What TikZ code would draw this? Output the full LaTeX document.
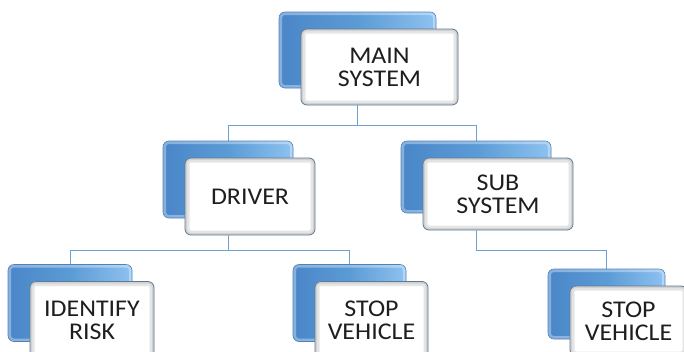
\documentclass[tikz,border=0pt]{standalone}
\usepackage{fontspec}
\setmainfont{Carlito}[FakeStretch=1.08]
\usetikzlibrary{backgrounds}

\definecolor{bluemid}{HTML}{5B9BD5}
\definecolor{bluedark}{HTML}{4A86C8}
\definecolor{bluelight}{HTML}{8EC2F0}
\definecolor{blueedge}{HTML}{4D82BE}
\definecolor{frameedge}{HTML}{5E7A96}
\definecolor{linkblue}{HTML}{6FA0D2}
\definecolor{textgray}{HTML}{1E1E1E}

\tikzset{
  backbox/.style={rectangle, rounded corners=6pt, draw=blueedge, line width=0.6pt,
    left color=bluedark, right color=bluelight, middle color=bluemid,
    path picture={\draw[white, opacity=0.35, line width=6pt, rounded corners=6pt]
      (path picture bounding box.north west) rectangle (path picture bounding box.south east);}},
  frontbox/.style={rectangle, rounded corners=6pt, draw=frameedge, line width=0.8pt,
    fill=white, align=center, text=textgray, font=\fontsize{24}{23}\selectfont,
    path picture={
      \draw[black!10, line width=9pt, rounded corners=6pt]
        (path picture bounding box.north west) rectangle (path picture bounding box.south east);
      \draw[black!18, line width=4pt, rounded corners=6pt]
        (path picture bounding box.north west) rectangle (path picture bounding box.south east);}},
  link/.style={draw=linkblue, line width=0.9pt}
}

% back box shifted up-left, white box with the label in front
\newcommand{\block}[6]{
  \node[backbox, minimum width=#4pt, minimum height=#5pt] (#1B) at (#2-22,#3-17) {};
  \node[frontbox, minimum width=#4pt, minimum height=#5pt] (#1) at (#2,#3) {#6};}

\begin{document}
\begin{tikzpicture}[x=1pt, y=-1pt]
    \useasboundingbox (0,0) rectangle (684,351);
    \block{main}{379.5}{67}{157}{76}{MAIN\\SYSTEM}
    \block{driver}{250}{196.5}{130}{77}{DRIVER}
    \block{sub}{498}{194}{150}{72}{SUB\\SYSTEM}
    \block{risk}{92}{320}{124}{77}{IDENTIFY\\RISK}
    \block{stopA}{371.5}{320}{113}{77}{STOP\\VEHICLE}
    \block{stopB}{628.5}{321}{117}{70}{STOP\\VEHICLE}

    \coordinate (busA) at (0,125); \coordinate (busB) at (0,250);
    \begin{scope}[on background layer]
    \draw[link] (mainB.south) -- (mainB.south |- busA) -| (driverB.north);
    \draw[link] (mainB.south |- busA) -| (subB.north);
    \draw[link] (driverB.south) -- (driverB.south |- busB) -| (riskB.north);
    \draw[link] (driverB.south |- busB) -| (stopAB.north);
    \draw[link] (subB.south) -- (subB.south |- busB) -| (stopBB.north);
    \end{scope}
\end{tikzpicture}
\end{document}
